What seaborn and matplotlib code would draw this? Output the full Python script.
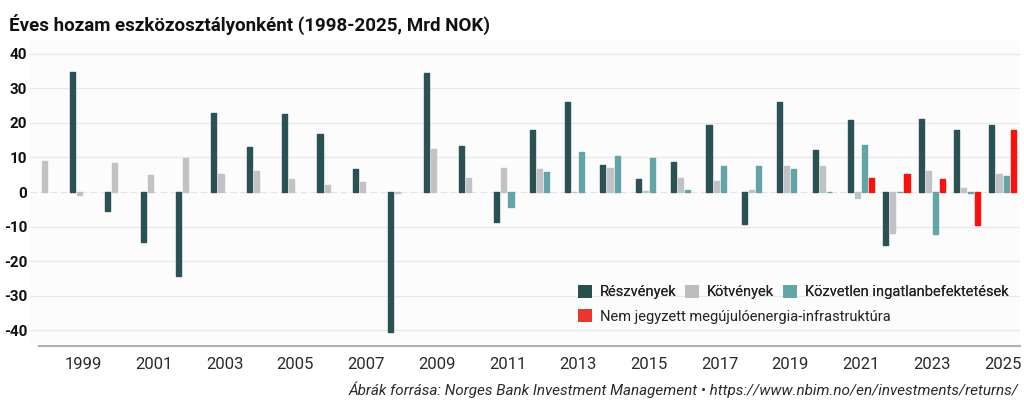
import numpy as np
import pandas as pd
import seaborn as sns
import matplotlib.pyplot as plt
from matplotlib.patches import Patch

nan = np.nan
years = list(range(1998, 2026))
series_names = ['Részvények', 'Kötvények', 'Közvetlen ingatlanbefektetések',
                'Nem jegyzett megújulóenergia-infrastruktúra']
colors = ['#2a5254', '#c0c2c6', '#63a4a6', '#fb1010']

equity = [nan, 34.9, -5.6, -14.5, -24.3, 22.8, 12.9, 22.5, 16.9, 6.6, -40.6, 34.4, 13.3, -8.7,
          18.1, 26.2, 7.9, 3.8, 8.7, 19.5, -9.2, 26.0, 12.1, 20.8, -15.3, 21.2, 18.1, 19.3]
bonds = [9.1, -0.8, 8.4, 5.0, 9.8, 5.2, 6.2, 3.9, 1.9, 2.8, -0.3, 12.5, 4.0, 6.9,
         6.7, 0.1, 6.9, 0.3, 4.2, 3.3, 0.5, 7.5, 7.5, -1.7, -11.9, 6.2, 1.3, 5.3]
real_estate = [nan] * 13 + [-4.3, 5.8, 11.7, 10.4, 9.9, 0.7, 7.5, 7.5, 6.7, -0.1, 13.7, 0.1,
                            -12.1, -0.3, 4.5]
renewables = [nan] * 23 + [4.1, 5.2, 3.7, -9.6, 18.1]

df = pd.DataFrame({'year': years, series_names[0]: equity, series_names[1]: bonds,
                   series_names[2]: real_estate, series_names[3]: renewables})
long = df.melt(id_vars='year', var_name='tipus', value_name='hozam')

plt.rcParams['font.family'] = ['Roboto', 'DejaVu Sans']

fig = plt.figure(figsize=(10.24, 4.09), dpi=100)
ax = fig.add_axes([0.0293, 0.154, 0.967, 0.748])
ax.set_facecolor('#fcfcfc')

sns.barplot(data=long, x='year', y='hozam', hue='tipus', hue_order=series_names,
            palette=colors, width=0.8, gap=0.28, legend=False, ax=ax, saturation=1)

# rounded-ish bar ends
for p in ax.patches:
    p.set_edgecolor(p.get_facecolor())
    p.set_linewidth(1.0)
    p.set_joinstyle('round')

ax.set_ylim(-44.6, 44)
ax.set_xlim(-0.5, 27.5)
ax.set_yticks(range(-40, 41, 10))
ax.set_yticklabels([str(v) for v in range(-40, 41, 10)], fontsize=11, fontweight='bold', color='#111111')
for v in range(-40, 41, 10):
    if v != 0:
        ax.axhline(v, color='#e8e8e8', lw=0.9, zorder=0)
ax.axhline(0, color='#e4e4e4', lw=0.8, ls=(0, (6, 3)), zorder=0)

xt = [years.index(y) for y in years if y % 2 == 1]
ax.set_xticks(xt)
ax.set_xticklabels([str(years[i]) for i in xt], fontsize=12, color='#2a2a2a')
ax.tick_params(axis='both', length=0)
ax.tick_params(axis='x', pad=8)
ax.tick_params(axis='y', pad=2)
ax.set_xlabel('')
ax.set_ylabel('')
for s in ['top', 'right', 'left']:
    ax.spines[s].set_visible(False)
ax.spines['bottom'].set_color('#b0b0b0')
ax.spines['bottom'].set_linewidth(1.5)
ax.spines['bottom'].set_bounds(-0.25, 27.5)

handles = [Patch(facecolor=c, edgecolor='none') for c in ['#26504f', '#bdbdbf', '#63a4a6', '#e8372e']]
leg1 = fig.legend(handles[:3], series_names[:3], loc='upper left', bbox_to_anchor=(0.557, 0.322),
                  ncol=3, frameon=False, borderpad=0, handlelength=1.0, handleheight=1.0,
                  handletextpad=0.5, columnspacing=0.6, prop={'size': 10.5})
leg2 = fig.legend(handles[3:], series_names[3:], loc='upper left', bbox_to_anchor=(0.557, 0.262),
                  frameon=False, borderpad=0, handlelength=1.0, handleheight=1.0,
                  handletextpad=0.5, prop={'size': 10.5})
fig.add_artist(leg1)
for t in leg1.get_texts() + leg2.get_texts():
    t.set_color('#222222')

fig.text(0.009, 0.965, 'Éves hozam eszközosztályonként (1998-2025, Mrd NOK)',
         fontsize=13.5, fontweight='bold', color='#111111', va='top', ha='left')
fig.text(0.995, 0.035, 'Ábrák forrása: Norges Bank Investment Management • https://www.nbim.no/en/investments/returns/',
         fontsize=11, style='italic', color='#2a2a2a', ha='right', va='baseline')

fig.savefig('out.png', dpi=100, facecolor='white')
